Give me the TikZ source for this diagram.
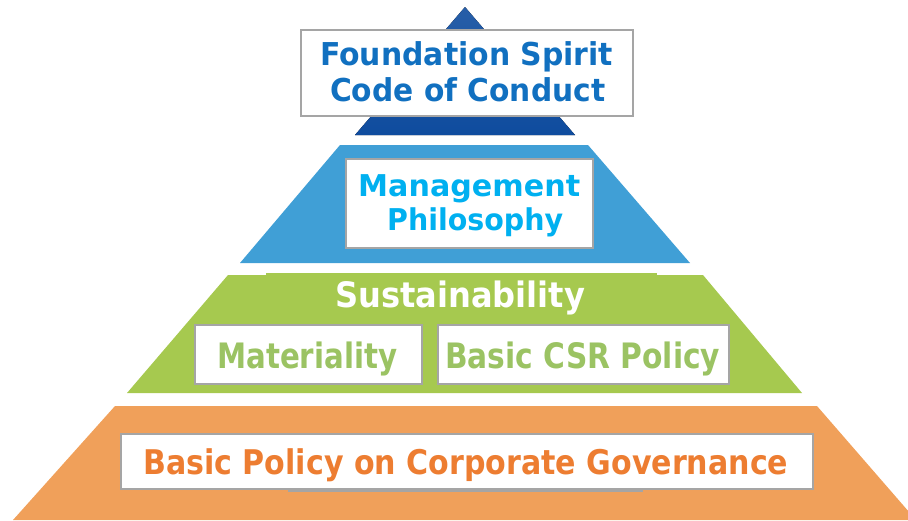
\documentclass[tikz,border=0pt]{standalone}
\usepackage{fontspec}
\setmainfont{DejaVu Sans}
\usepackage{graphicx}
\definecolor{darkblue}{HTML}{0F4C9E}
\definecolor{midblue}{HTML}{409FD6}
\definecolor{lgreen}{HTML}{A6C94F}
\definecolor{lorange}{HTML}{F0A05A}
\definecolor{boxgray}{HTML}{A5A5A5}
\definecolor{tblue}{HTML}{1170C0}
\definecolor{tcyan}{HTML}{00B0F0}
\definecolor{tgreen}{HTML}{9BC363}
\definecolor{torange}{HTML}{ED7D31}
\newsavebox\fitbox
\newcommand\fitto[3]{%
  \sbox\fitbox{\fontsize{#2pt}{#2pt}\selectfont\bfseries #3}%
  \pgfmathsetmacro\myscale{#1/\the\wd\fitbox}%
  \scalebox{\myscale}[1]{\usebox\fitbox}}
\begin{document}
\begin{tikzpicture}[x=1pt,y=-1pt,
  box/.style={draw=boxgray, line width=1.5pt, fill=white, inner sep=0pt, anchor=north west},
  lbl/.style={inner sep=0pt, anchor=base west}]
\useasboundingbox (0,0) rectangle (908,520);
\clip (0,0) rectangle (908,520);
% pyramid layers
\fill[top color=darkblue!90!white, bottom color=darkblue] (465,7) -- (575,135) -- (355,135) -- cycle;
\fill[midblue] (240,263) -- (340,145) -- (588,145) -- (690,263) -- cycle;
\fill[lgreen] (127,393) -- (228,275) -- (703,275) -- (802,393) -- cycle;
\fill[lgreen] (266,273) rectangle (657,322);
\fill[lorange] (13,520) -- (115,406) -- (817,406) -- (916,520) -- cycle;
\fill[boxgray] (288,486) rectangle (643,492);
% boxes
\node[box, minimum width=332pt, minimum height=86pt] (fsbox) at (300,29) {};
\node[box, minimum width=247pt, minimum height=89pt] (mpbox) at (345,158) {};
\node[box, minimum width=227pt, minimum height=59pt] (matbox) at (194,324) {};
\node[box, minimum width=291pt, minimum height=59pt] (csrbox) at (437,324) {};
\node[box, minimum width=692pt, minimum height=55pt] (cgbox) at (120,433) {};
% texts
\node[lbl, text=tblue] (fs1) at (320,65) {\fitto{293}{31.5}{Foundation Spirit}};
\node[lbl, text=tblue] (fs2) at (330,101) {\fitto{275}{31.5}{Code of Conduct}};
\node[lbl, text=tcyan] (mp1) at (358,196) {\fitto{222}{30}{Management}};
\node[lbl, text=tcyan] (mp2) at (387,230) {\fitto{176}{30}{Philosophy}};
\node[lbl, text=white] (sus) at (335,307) {\fitto{250}{35}{Sustainability}};
\node[lbl, text=tgreen] (mat) at (217,368) {\fitto{180}{35}{Materiality}};
\node[lbl, text=tgreen] (csr) at (445,368) {\fitto{275}{35}{Basic CSR Policy}};
\node[lbl, text=torange] (cg) at (143,474) {\fitto{645}{34}{Basic Policy on Corporate Governance}};
\end{tikzpicture}
\end{document}
